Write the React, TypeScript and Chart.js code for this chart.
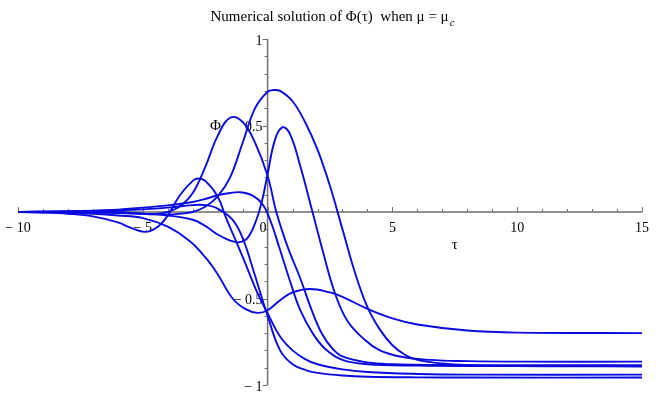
import React, { useEffect, useRef } from "react";
import { Chart, registerables } from "chart.js";
Chart.register(...registerables);

// ---- data (tau, Phi) ----
const tauA = [-10, -8, -6, -5, -4, -3.5, -3, -2.5, -2, -1.5, -1, -0.5, 0, 0.25, 0.5, 1, 1.5, 2, 2.5, 3, 3.5, 4, 4.5, 5, 5.5, 6, 7, 8, 10, 12, 15];
const phiA = [0, 0, -0.006, -0.01, -0.015, -0.01, 0.0, 0.03, 0.09, 0.2, 0.4, 0.6, 0.695, 0.705, 0.7, 0.64, 0.52, 0.36, 0.15, -0.1, -0.35, -0.55, -0.68, -0.77, -0.825, -0.855, -0.876, -0.885, -0.89, -0.892, -0.893];

const tauB = [-10, -8, -6, -5, -4.5, -4, -3.5, -3, -2.5, -2, -1.5, -1, -0.5, 0, 0.35, 0.8, 1.3, 1.8, 2.2, 2.6, 3, 4, 5, 7, 10, 15];
const phiB = [0, 0.002, 0.0, -0.01, -0.012, 0.0, 0.035, 0.11, 0.26, 0.44, 0.545, 0.52, 0.4, 0.21, 0, -0.2, -0.38, -0.58, -0.71, -0.79, -0.835, -0.87, -0.88, -0.884, -0.885, -0.885];

const tauC = [-10, -8, -6, -5, -4, -3, -2.5, -2, -1.5, -1.15, -0.8, -0.45, -0.2, 0, 0.3, 0.6, 0.9, 1.3, 1.8, 2.2, 2.7, 3.2, 3.9, 4.5, 5.3, 6.5, 8, 10, 15];
const phiC = [0, 0, -0.004, -0.01, -0.02, -0.045, -0.08, -0.13, -0.165, -0.175, -0.15, -0.045, 0.08, 0.22, 0.42, 0.49, 0.45, 0.27, 0, -0.22, -0.47, -0.63, -0.74, -0.8, -0.835, -0.855, -0.862, -0.865, -0.865];

const tauD = [-10, -9, -8, -7, -6, -5.5, -4.9, -4.4, -4, -3.5, -3, -2.8, -2.5, -2, -1.65, -1.2, -0.8, -0.4, 0, 0.5, 1, 1.5, 2, 3, 4, 6, 8, 15];
const phiD = [0, -0.003, -0.01, -0.025, -0.06, -0.09, -0.115, -0.085, -0.02, 0.1, 0.18, 0.194, 0.18, 0.09, -0.04, -0.19, -0.33, -0.47, -0.585, -0.72, -0.8, -0.85, -0.88, -0.91, -0.925, -0.936, -0.94, -0.94];

const tauE = [-10, -8, -6, -5, -4, -3, -2.5, -2, -1.5, -1.1, -0.6, -0.2, 0.1, 0.5, 0.9, 1.3, 1.8, 2.3, 3, 4, 6, 8, 15];
const phiE = [0, 0.004, 0.014, 0.025, 0.038, 0.058, 0.075, 0.097, 0.11, 0.114, 0.095, 0.045, -0.045, -0.22, -0.4, -0.565, -0.7, -0.79, -0.855, -0.88, -0.888, -0.89, -0.89];

const tauF = [-10, -8, -7, -6, -5, -4, -3.1, -2.45, -2, -1.4, -0.9, -0.4, 0, 0.5, 1, 1.7, 2.5, 3, 4, 5, 6, 8, 10, 15];
const phiF = [0, -0.004, -0.01, -0.02, -0.035, -0.085, -0.17, -0.27, -0.36, -0.5, -0.56, -0.583, -0.568, -0.51, -0.465, -0.445, -0.465, -0.49, -0.56, -0.615, -0.65, -0.685, -0.697, -0.7];

const tauH = [-10, -8, -6, -5, -4, -3, -2.5, -2, -1.4, -1, -0.5, 0, 0.5, 1, 1.55, 2, 3, 4, 6, 8, 15];
const phiH = [0, 0.003, 0.01, 0.015, 0.025, 0.04, 0.04, 0.02, -0.045, -0.15, -0.37, -0.6, -0.8, -0.88, -0.915, -0.93, -0.945, -0.952, -0.956, -0.957, -0.957];

const SERIES = [
  [tauA, phiA],
  [tauB, phiB],
  [tauC, phiC],
  [tauD, phiD],
  [tauE, phiE],
  [tauF, phiF],
  [tauH, phiH],
];

// ---- axis ticks ----
const X_MIN = -10;
const X_MAX = 15;
const Y_MIN = -1;
const Y_MAX = 1;
const X_TICKS = [-10, -5, 0, 5, 10, 15];
const X_TICK_LABELS = ["\u2212 10", "\u2212 5", "0", "5", "10", "15"];
const Y_TICKS = [-1, -0.5, 0.5, 1];
const Y_TICK_LABELS = ["\u2212 1", "\u2212 0.5", "0.5", "1"];
const X_MINOR_STEP = 1;
const Y_MINOR_STEP = 0.1;

const TITLE_MAIN = "Numerical solution of \u03A6(\u03C4)  when \u03BC = \u03BC";
const TITLE_SUB = "c";
const X_AXIS_LABEL = "\u03C4";
const Y_AXIS_LABEL = "\u03A6";

const LINE_COLOR = "rgb(10,10,225)";
const AXIS_COLOR = "#6e6e6e";
const FONT = '"Liberation Serif", "Times New Roman", serif';

const mapleAxes = {
  id: "mapleAxes",
  beforeDatasetsDraw(chart: any) {
    const { ctx } = chart;
    const xs = chart.scales.x;
    const ys = chart.scales.y;
    const x0 = xs.getPixelForValue(0);
    const y0 = ys.getPixelForValue(0);
    ctx.save();
    ctx.strokeStyle = AXIS_COLOR;
    ctx.lineWidth = 1.5;
    ctx.beginPath();
    ctx.moveTo(xs.getPixelForValue(X_MIN), y0);
    ctx.lineTo(xs.getPixelForValue(X_MAX), y0);
    ctx.moveTo(x0, ys.getPixelForValue(Y_MIN));
    ctx.lineTo(x0, ys.getPixelForValue(Y_MAX));
    ctx.stroke();

    ctx.lineWidth = 1;
    ctx.beginPath();
    for (let v = X_MIN; v <= X_MAX + 1e-9; v += X_MINOR_STEP) {
      const px = Math.round(xs.getPixelForValue(v)) + 0.5;
      const major = X_TICKS.includes(v);
      ctx.moveTo(px, y0);
      ctx.lineTo(px, y0 - (major ? 5 : 3));
    }
    const nY = Math.round((Y_MAX - Y_MIN) / Y_MINOR_STEP);
    for (let k = 0; k <= nY; k++) {
      const v = Y_MIN + k * Y_MINOR_STEP;
      const py = Math.round(ys.getPixelForValue(v)) + 0.5;
      const major = Y_TICKS.some((t) => Math.abs(t - v) < 1e-6);
      ctx.moveTo(x0, py);
      ctx.lineTo(x0 - (major ? 5 : 3), py);
    }
    ctx.stroke();

    ctx.fillStyle = "#000";
    ctx.font = `14px ${FONT}`;
    ctx.textBaseline = "middle";
    X_TICKS.forEach((v, i) => {
      const px = xs.getPixelForValue(v);
      if (v === 0) {
        ctx.textAlign = "right";
        ctx.fillText(X_TICK_LABELS[i], px - 1, y0 + 16);
      } else {
        ctx.textAlign = "center";
        ctx.fillText(X_TICK_LABELS[i], px, y0 + 16);
      }
    });
    ctx.textAlign = "right";
    Y_TICKS.forEach((v, i) => {
      const py = ys.getPixelForValue(v);
      ctx.fillText(Y_TICK_LABELS[i], x0 - 5, py + 2);
    });

    ctx.font = `15px ${FONT}`;
    ctx.textAlign = "center";
    ctx.fillText(X_AXIS_LABEL, xs.getPixelForValue(7.5), y0 + 33);
    ctx.fillText(Y_AXIS_LABEL, x0 - 52, ys.getPixelForValue(0.5) + 1);
    ctx.restore();
  },
  afterDraw(chart: any) {
    const { ctx } = chart;
    ctx.save();
    ctx.fillStyle = "#000";
    ctx.textBaseline = "alphabetic";
    ctx.textAlign = "left";
    ctx.font = `15px ${FONT}`;
    const w1 = ctx.measureText(TITLE_MAIN).width;
    ctx.font = `italic 11px ${FONT}`;
    const w2 = ctx.measureText(TITLE_SUB).width;
    const cx = 332;
    const start = cx - (w1 + w2) / 2;
    ctx.font = `15px ${FONT}`;
    ctx.fillText(TITLE_MAIN, start, 21);
    ctx.font = `italic 11px ${FONT}`;
    ctx.fillText(TITLE_SUB, start + w1 + 1, 26);
    ctx.restore();
  },
};

export default function App() {
  const ref = useRef<HTMLCanvasElement | null>(null);
  useEffect(() => {
    document.body.style.margin = "0";
    const canvas = ref.current;
    if (!canvas) return;
    const datasets = SERIES.map(([t, p]) => ({
      data: t.map((tv, i) => ({ x: tv, y: p[i] })),
      borderColor: LINE_COLOR,
      borderWidth: 1.9,
      pointRadius: 0,
      fill: false,
      tension: 0.4,
    }));
    const chart = new Chart(canvas, {
      type: "line",
      data: { datasets },
      options: {
        animation: false,
        responsive: false,
        devicePixelRatio: 1,
        layout: { padding: { left: 18, right: 14, top: 39, bottom: 15 } },
        plugins: { legend: { display: false }, tooltip: { enabled: false }, title: { display: false } },
        scales: {
          x: { type: "linear", min: X_MIN, max: X_MAX, display: false },
          y: { type: "linear", min: Y_MIN, max: Y_MAX, display: false },
        },
        elements: { line: { borderCapStyle: "round", borderJoinStyle: "round" } },
      },
      plugins: [mapleAxes],
    });
    return () => chart.destroy();
  }, []);
  return (
    <div style={{ position: "absolute", left: 0, top: 0, width: 656, height: 400, background: "#fff" }}>
      <canvas ref={ref} width={656} height={400} />
    </div>
  );
}
